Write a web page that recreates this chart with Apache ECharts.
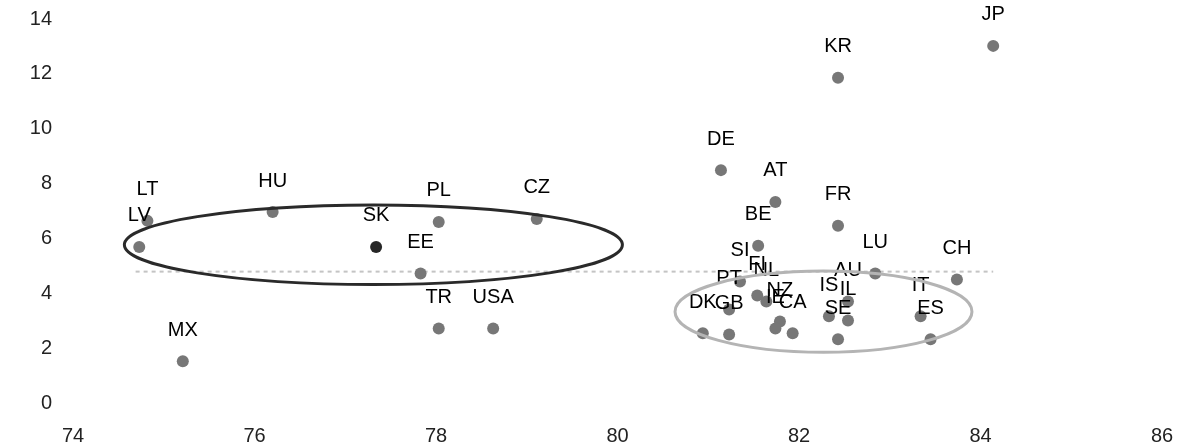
<!DOCTYPE html>
<html>
<head>
<meta charset="utf-8">
<script src="https://cdn.jsdelivr.net/npm/echarts@6/dist/echarts.min.js"></script>
<style>html,body{margin:0;padding:0;background:#fff;}#c{width:1184px;height:446px;}</style>
</head>
<body>
<div id="c"></div>
<script>
// Country codes, x values, y values
var countries = ['LT','LV','HU','SK','MX','PL','CZ','EE','TR','USA',
  'JP','KR','DE','AT','FR','BE','SI','PT','FI','NL','DK','GB','NZ','IE','CA','IS','SE','AU','IL','LU','CH','IT','ES'];
var xValues = [74.82,74.73,76.20,77.34,75.21,78.03,79.11,77.83,78.03,78.63,
  84.14,82.43,81.14,81.74,82.43,81.55,81.35,81.23,81.54,81.64,80.94,81.23,81.79,81.74,81.93,82.33,82.43,82.54,82.54,82.84,83.74,83.34,83.45];
var yValues = [6.64,5.69,6.96,5.69,1.52,6.60,6.71,4.72,2.72,2.72,
  13.02,11.86,8.49,7.33,6.46,5.73,4.43,3.41,3.92,3.70,2.54,2.50,2.97,2.72,2.54,3.16,2.32,3.70,3.01,4.72,4.50,3.16,2.32];
var highlighted = ['SK'];
// Reference (average) line end points
var avgLineX = [74.69, 84.14];
var avgLineY = [4.79, 4.79];
// Ellipses: centre x, centre y, radius x, radius y (data units)
var ellipseDark = [77.31, 5.77, 2.744, 1.45];
var ellipseLight = [82.27, 3.33, 1.636, 1.48];
var xTicks = [74, 76, 78, 80, 82, 84, 86];
var yTicks = [0, 2, 4, 6, 8, 10, 12, 14];

var FONT = 'Liberation Sans';
var chart = echarts.init(document.getElementById('c'), null, {renderer: 'canvas'});

var pts = countries.map(function (c, i) {
  var item = {name: c, value: [xValues[i], yValues[i]]};
  if (highlighted.indexOf(c) >= 0) item.itemStyle = {color: '#262626'};
  return item;
});

function ellipseRender(color) {
  return function (params, api) {
    var c = api.coord([api.value(0), api.value(1)]);
    var s = api.size([api.value(2), api.value(3)]);
    return {
      type: 'ellipse',
      shape: {cx: c[0], cy: c[1], rx: s[0], ry: s[1]},
      style: {fill: 'none', stroke: color, lineWidth: 3}
    };
  };
}

chart.setOption({
  animation: false,
  backgroundColor: '#fff',
  grid: {left: 73, right: 22, top: 19, bottom: 41, containLabel: false},
  xAxis: {
    type: 'value', min: xTicks[0], max: xTicks[xTicks.length - 1], interval: 2,
    axisLine: {show: false}, axisTick: {show: false}, splitLine: {show: false},
    axisLabel: {color: '#222', fontFamily: FONT, fontSize: 20, margin: 23}
  },
  yAxis: {
    type: 'value', min: yTicks[0], max: yTicks[yTicks.length - 1], interval: 2,
    axisLine: {show: false}, axisTick: {show: false}, splitLine: {show: false},
    axisLabel: {color: '#222', fontFamily: FONT, fontSize: 20, margin: 21}
  },
  series: [
    {
      type: 'line',
      data: avgLineX.map(function (x, i) { return [x, avgLineY[i]]; }),
      symbol: 'none',
      lineStyle: {color: '#c4c4c4', width: 2, type: [4, 4]},
      z: 1, silent: true
    },
    {
      type: 'scatter',
      data: pts,
      symbolSize: 12,
      itemStyle: {color: '#777777', opacity: 1},
      label: {
        show: true, position: 'top', distance: 15,
        formatter: '{b}', color: '#000', fontFamily: FONT, fontSize: 20
      },
      labelLayout: {hideOverlap: false},
      z: 2
    },
    {
      type: 'custom',
      data: [ellipseDark],
      renderItem: ellipseRender('#2a2a2a'),
      z: 3, silent: true, clip: false
    },
    {
      type: 'custom',
      data: [ellipseLight],
      renderItem: ellipseRender('#b4b4b4'),
      z: 3, silent: true, clip: false
    }
  ]
});
</script>
</body>
</html>
